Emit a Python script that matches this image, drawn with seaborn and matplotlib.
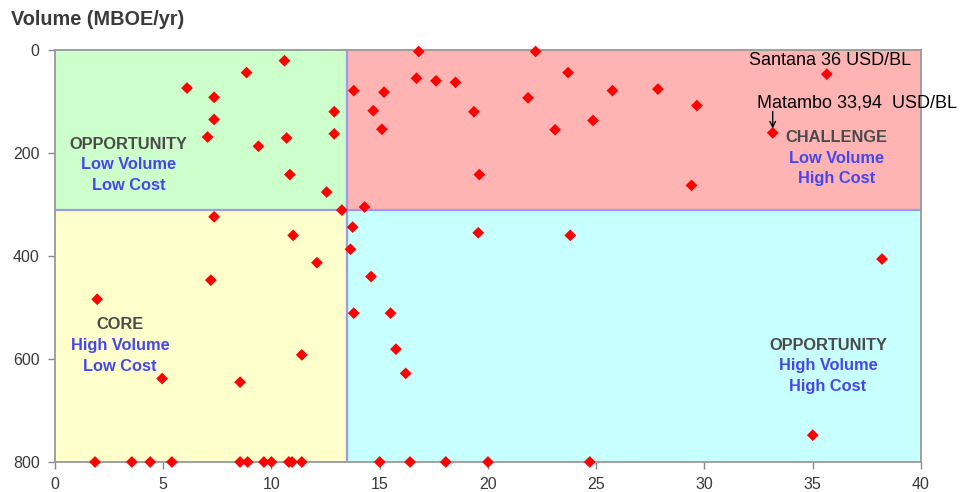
import seaborn as sns
import matplotlib.pyplot as plt
import pandas as pd
from matplotlib.patches import Rectangle

# Данные: себестоимость (USD/BL) и объём (MBOE/yr)
cost = [6.1, 7.35, 7.35, 7.05, 8.85, 10.6, 9.4, 10.7, 12.9, 12.9, 10.85, 12.55, 13.25,
        7.35, 11.0, 12.1, 7.2, 1.95, 11.4, 4.95, 8.55,
        1.85, 3.55, 4.4, 5.4, 8.55, 8.9, 9.65, 10.0, 10.8, 10.95, 11.4,
        16.8, 22.2, 16.7, 17.6, 18.5, 13.8, 15.2, 23.7, 25.75, 21.85, 14.7, 19.35,
        15.1, 23.1, 24.85, 19.6, 14.3, 27.85, 29.65, 35.65, 29.4, 33.15,
        13.75, 19.55, 23.8, 13.65, 14.6, 13.8, 15.5, 15.75, 16.2, 38.2, 35.0,
        15.0, 16.4, 18.05, 20.0, 24.7]
volume = [74, 92, 135, 169, 44, 21, 187, 171, 120, 163, 242, 276, 311,
          324, 360, 413, 447, 484, 592, 638, 645,
          800, 800, 800, 800, 800, 800, 800, 800, 800, 800, 800,
          3, 3, 55, 60, 63, 79, 82, 44, 79, 93, 118, 120,
          154, 155, 137, 242, 305, 76, 108, 47, 263, 161,
          344, 355, 360, 387, 440, 511, 511, 581, 628, 406, 748,
          800, 800, 800, 800, 800]

x_split = 13.5
y_split = 310

quadrants = [
    # (x0, x1, y0, y1, цвет, заголовок, подпись, позиция текста)
    (0, x_split, 0, y_split, '#CCFFCC', 'OPPORTUNITY', ['Low Volume', 'Low Cost'], (3.4, 183)),
    (x_split, 40, 0, y_split, '#FFB4B4', 'CHALLENGE', ['Low Volume', 'High Cost'], (36.1, 170)),
    (0, x_split, y_split, 800, '#FFFFCC', 'CORE', ['High Volume', 'Low Cost'], (3.0, 534)),
    (x_split, 40, y_split, 800, '#C8FFFF', 'OPPORTUNITY', ['High Volume', 'High Cost'], (35.7, 573)),
]

df = pd.DataFrame({'cost': cost, 'volume': volume})

sns.set_style("white")
plt.rcParams['font.family'] = ['Liberation Sans', 'DejaVu Sans']

fig = plt.figure(figsize=(9.64, 4.92), dpi=100)
ax = fig.add_axes([0.057, 0.061, 0.8984, 0.8375])

# Фоны квадрантов и подписи
for x0, x1, y0, y1, color, title, sub, (tx, ty) in quadrants:
    ax.add_patch(Rectangle((x0, y0), x1 - x0, y1 - y0, facecolor=color,
                           edgecolor='none', zorder=0))
    ax.text(tx, ty, title, ha='center', va='center', fontsize=11.8,
            fontweight='bold', color='#4a4a4a', zorder=3)
    for i, line in enumerate(sub):
        ax.text(tx, ty + 40 * (i + 1), line, ha='center', va='center',
                fontsize=11.8, fontweight='bold', color='#4646F0', zorder=3)

ax.axvline(x_split, color='#9A9AEE', lw=1.6, zorder=1)
ax.axhline(y_split, color='#9A9AEE', lw=1.6, zorder=1)

sns.scatterplot(data=df, x='cost', y='volume', marker='D', color='#FF0000',
                s=36, edgecolor='none', ax=ax, zorder=4, clip_on=False)

ax.set_xlim(0, 40)
ax.set_ylim(800, 0)
ax.set_xticks(range(0, 41, 5))
ax.set_yticks(range(0, 801, 200))
ax.set_xlabel('')
ax.set_ylabel('')
ax.tick_params(axis='both', length=5, width=1, color='#888888',
               labelsize=11.5, labelcolor='#3a3a3a', direction='out', pad=6)
ax.tick_params(left=True, bottom=True)
for side in ['left', 'bottom', 'top', 'right']:
    ax.spines[side].set_color('#999999')
    ax.spines[side].set_linewidth(1.3)

# Аннотации
ax.text(35.8, 21, 'Santana 36 USD/BL', ha='center', va='center', fontsize=13,
        color='black', zorder=5)
ax.text(37.05, 103, 'Matambo 33,94  USD/BL', ha='center', va='center', fontsize=13,
        color='black', zorder=5, clip_on=False)
ax.annotate('', xy=(33.15, 158), xytext=(33.15, 114),
            arrowprops=dict(arrowstyle='->', color='black', lw=1.0), zorder=5)

fig.text(0.011, 0.96, 'Volume (MBOE/yr)', ha='left', va='center', fontsize=14.3,
         fontweight='bold', color='#3a3a3a')

plt.savefig('out.png', dpi=100)
